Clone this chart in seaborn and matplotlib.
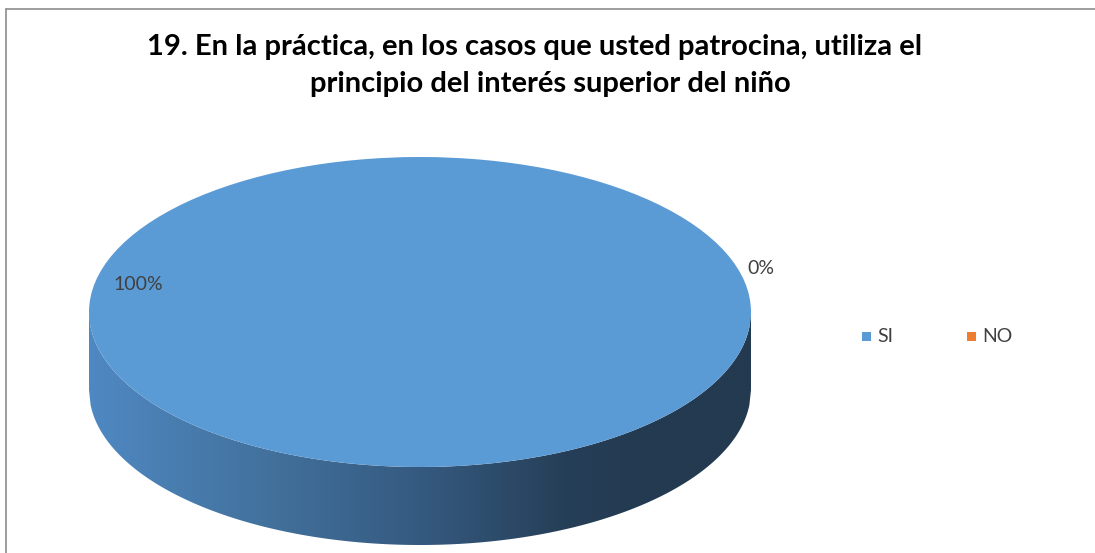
import numpy as np
import matplotlib
matplotlib.use("Agg")
import matplotlib.pyplot as plt
from matplotlib.patches import Polygon, Rectangle
from matplotlib.lines import Line2D
from matplotlib.colors import LinearSegmentedColormap
import seaborn as sns

# Survey answers
categories = ["SI", "NO"]
values = [100, 0]
pct_labels = ["100%", "0%"]
title_lines = ["19. En la práctica, en los casos que usted patrocina, utiliza el",
               "principio del interés superior del niño"]

colors = ["#5B9BD5", "#ED7D31"]

sns.set_theme(style="white")
plt.rcParams["font.family"] = ["Lato", "DejaVu Sans"]

W, H = 1095, 553
fig = plt.figure(figsize=(W / 100, H / 100), dpi=100)
fig.patch.set_facecolor("white")

# chart frame (top and left edges)
fig.add_artist(Line2D([6 / W, 1], [1 - 9 / H, 1 - 9 / H], color="#8C8C8C", lw=1.2))
fig.add_artist(Line2D([6 / W, 6 / W], [0, 1 - 9 / H], color="#8C8C8C", lw=1.2))

# pie area in pixels: top ellipse x 89..751, y 157..467, side depth 78
x0, x1, ytop, ybot, depth = 89, 751, 157, 467, 78
b = (ybot - ytop) / 2
d = depth / b
ax = fig.add_axes([x0 / W, 1 - (ybot + depth) / H, (x1 - x0) / W, (ybot + depth - ytop) / H])

# top face drawn by pie (first slice starting at 12 o'clock, clockwise)
wedges, _ = ax.pie(values, colors=colors, startangle=90, counterclock=False,
                   radius=1, wedgeprops=dict(linewidth=0))
for w in wedges:
    w.set_zorder(3)
ax.set_aspect("auto")
ax.set_xlim(-1, 1)
ax.set_ylim(-1 - d, 1)
ax.axis("off")

# cylinder side with horizontal shading
xs = np.linspace(-1, 1, 400)
lower = -np.sqrt(np.clip(1 - xs ** 2, 0, None))
verts = np.concatenate([np.column_stack([xs, lower - d]),
                        np.column_stack([xs[::-1], lower[::-1]])])
side = Polygon(verts, closed=True, facecolor="none", edgecolor="none")
ax.add_patch(side)
cmap = LinearSegmentedColormap.from_list(
    "side", [(0.0, "#4F88C2"), (0.25, "#43739F"), (0.5, "#355A80"),
             (0.72, "#263F58"), (0.85, "#233A50"), (1.0, "#233A50")])
grad = np.linspace(0, 1, 512)[None, :]
img = ax.imshow(grad, cmap=cmap, extent=(-1, 1, -1 - d, 0), aspect="auto",
                zorder=2, interpolation="bilinear")
img.set_clip_path(side)
ax.set_xlim(-1, 1)
ax.set_ylim(-1 - d, 1)

# percentage labels
fig.text(138 / W, 1 - 285 / H, pct_labels[0], ha="center", va="center",
         fontsize=14, color="#404040")
fig.text(761 / W, 1 - 268 / H, pct_labels[1], ha="center", va="center",
         fontsize=14, color="#404040")

# title
fig.text(535 / W, 1 - 47 / H, title_lines[0], ha="center", va="center",
         fontsize=21, fontweight="bold", color="#000000")
fig.text(550 / W, 1 - 84 / H, title_lines[1], ha="center", va="center",
         fontsize=21, fontweight="bold", color="#000000")

# legend
for i, (lab, col) in enumerate(zip(categories, colors)):
    lx = 862 + i * 105
    fig.add_artist(Rectangle((lx / W, 1 - 341 / H), 9 / W, 9 / H,
                             facecolor=col, edgecolor="none", transform=fig.transFigure))
    fig.text((lx + 15) / W, 1 - 336 / H, lab, ha="left", va="center",
             fontsize=14, color="#404040")

fig.savefig("out.png", dpi=100)
